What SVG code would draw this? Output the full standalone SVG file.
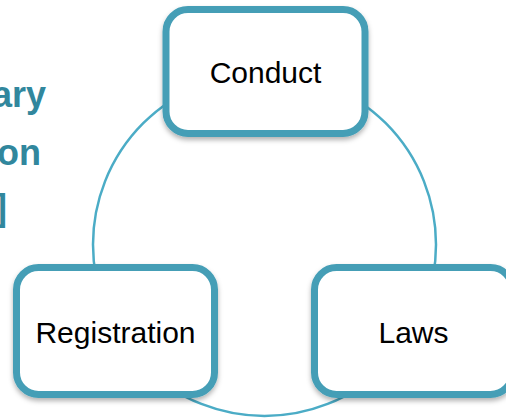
<svg xmlns="http://www.w3.org/2000/svg" width="506" height="419" viewBox="0 0 506 419">
  <style>
    .box { fill: #ffffff; stroke: #449eb6; stroke-width: 7; filter: url(#shadow); }
    .label { font-family: "Liberation Sans", Arial, sans-serif; font-size: 30px; fill: #000000; text-anchor: middle; }
    .side { font-family: "Liberation Sans", Arial, sans-serif; font-size: 36px; font-weight: bold; fill: #31879d; text-anchor: end; }
    .ring { fill: none; stroke: #4bacc6; stroke-width: 2.5; }
  </style>
  <defs>
    <filter id="shadow" x="-10%" y="-10%" width="120%" height="130%">
      <feDropShadow dx="0" dy="3" stdDeviation="2.5" flood-color="#000000" flood-opacity="0.3"/>
    </filter>
  </defs>
  <rect width="506" height="419" fill="#ffffff"/>
  <g id="side-title">
    <text class="side" x="46" y="107">ary</text>
    <text class="side" x="41" y="165">on</text>
    <text class="side" x="7" y="220">]</text>
  </g>
  <g id="connectors">
    <circle class="ring" cx="264.5" cy="244.5" r="171.5"/>
  </g>
  <g id="node-conduct">
    <rect class="box" x="166" y="9.5" width="199" height="124" rx="22"/>
    <text class="label" x="265.5" y="83">Conduct</text>
  </g>
  <g id="node-registration">
    <rect class="box" x="16.5" y="267.5" width="198" height="127" rx="22"/>
    <text class="label" x="115.5" y="343">Registration</text>
  </g>
  <g id="node-laws">
    <rect class="box" x="314.5" y="267.5" width="198" height="127" rx="22"/>
    <text class="label" x="413.5" y="343">Laws</text>
  </g>
</svg>
